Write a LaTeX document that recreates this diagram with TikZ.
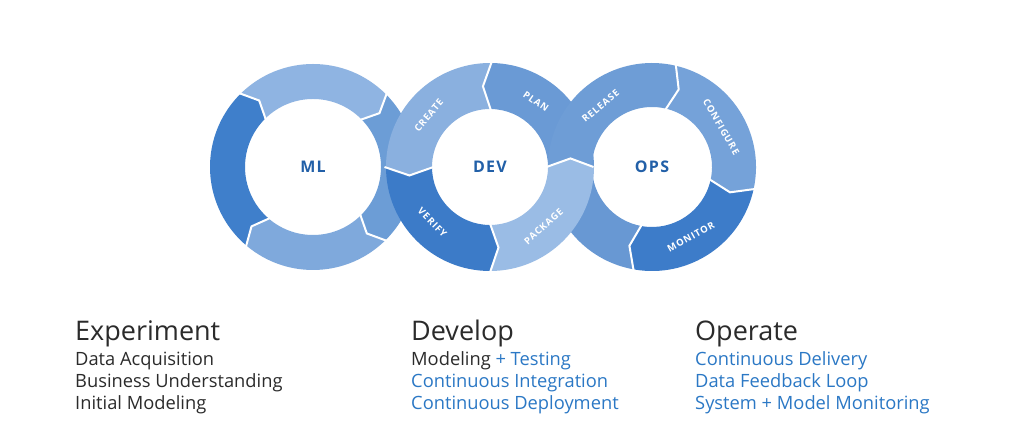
\documentclass[tikz,border=0pt]{standalone}
\usepackage{fontspec}
\setmainfont{Open Sans}
\newfontfamily\segfont[LetterSpace=10]{Open Sans}
\newfontfamily\ctrfont[LetterSpace=8]{Open Sans}
\definecolor{mlL}{HTML}{3F7FCB}
\definecolor{mlT}{HTML}{8FB4E2}
\definecolor{mlR}{HTML}{6C9DD6}
\definecolor{mlB}{HTML}{7FA9DC}
\definecolor{dvC}{HTML}{8AB0DF}
\definecolor{dvP}{HTML}{6A9AD5}
\definecolor{dvK}{HTML}{9ABCE5}
\definecolor{dvV}{HTML}{3C7BC8}
\definecolor{opR}{HTML}{6E9DD6}
\definecolor{opC}{HTML}{75A2D9}
\definecolor{opM}{HTML}{3D7CC9}
\definecolor{opL}{HTML}{6898D3}
\definecolor{ctrblue}{HTML}{2260A8}
\definecolor{txtdark}{HTML}{2B2B2B}
\definecolor{txtblue}{HTML}{2B78C5}
\newcommand{\ringseg}[7]{%
  \pgfmathsetmacro\segm{(#1+#2)/2}%
  \fill[#7] ({#3}:{#1}) arc[start angle=#3,end angle=#4,radius=#1]
    -- ({#4+#6}:{\segm}) -- ({#4}:{#2})
    arc[start angle=#4,end angle=#3,radius=#2]
    -- ({#3+#5}:{\segm}) -- cycle;}
\newcommand{\segsep}[4]{%
  \pgfmathsetmacro\segm{(#1+#2)/2}%
  \draw[sepline] ({#3}:{#1+1.5}) -- ({#3+#4}:{\segm}) -- ({#3}:{#2-1.5});}
\begin{document}
\begin{tikzpicture}[x=1pt,y=1pt,
  sepline/.style={white,line width=2pt,line join=miter},
  seglab/.style={text=white,font=\segfont\bfseries\fontsize{9.5}{10}\selectfont,inner sep=0pt},
  ctr/.style={text=ctrblue,font=\ctrfont\bfseries\fontsize{16}{18}\selectfont,inner sep=0pt},
  head/.style={anchor=base west,text=txtdark,font=\fontsize{27}{30}\selectfont,inner sep=0pt},
  subk/.style={anchor=base west,text=txtdark,font=\fontsize{18.3}{20}\selectfont,inner sep=0pt},
  subb/.style={anchor=base west,text=txtblue,font=\fontsize{18.3}{20}\selectfont,inner sep=0pt}]
\useasboundingbox (0,0) rectangle (1024,435);
\fill[white] (0,0) rectangle (1024,435);
% ML ring (clockwise)
\begin{scope}[shift={(313,268)}]
  \ringseg{103}{68}{230}{135}{-6}{-6}{mlL}
  \ringseg{103}{68}{135}{45}{-6}{-6}{mlT}
  \ringseg{103}{68}{45}{-45}{-6}{-6}{mlR}
  \ringseg{103}{68}{-45}{-130}{-6}{-6}{mlB}
  \segsep{103}{68}{135}{-6}
  \segsep{103}{68}{45}{-6}
  \segsep{103}{68}{-45}{-6}
  \segsep{103}{68}{-130}{-6}
  \node[ctr] (ml) at (0,0) {ML};
\end{scope}
% DEV ring, first part (counter-clockwise)
\begin{scope}[shift={(490,268)}]
  \ringseg{104}{58}{89}{180}{6}{6}{dvC}
  \ringseg{104}{58}{180}{270}{6}{6}{dvV}
  \ringseg{104}{58}{0}{89}{0}{6}{dvP}
\end{scope}
% OPS ring, first part (clockwise)
\begin{scope}[shift={(652,268)}]
  \ringseg{104}{60}{-100}{-180}{-6}{0}{opL}
  \ringseg{104}{60}{77}{-12}{-6}{-6}{opC}
  \ringseg{104}{60}{-12}{-100}{-6}{-6}{opM}
\end{scope}
% crossing strands
\begin{scope}[shift={(490,268)}]
  \ringseg{104}{58}{270}{360}{6}{6}{dvK}
\end{scope}
\begin{scope}[shift={(652,268)}]
  \ringseg{104}{60}{180}{77}{-6}{-6}{opR}
\end{scope}
% separators and labels
\begin{scope}[shift={(490,268)}]
  \segsep{104}{58}{89}{6}
  \segsep{104}{58}{180}{6}
  \segsep{104}{58}{270}{6}
  \node[ctr] (dev) at (0,0) {DEV};
  \node[seglab,rotate=50] (create) at (140:80) {CREATE};
  \node[seglab,rotate=-35] (plan) at (55:80) {PLAN};
  \node[seglab,rotate=-46] (verify) at (-136:80) {VERIFY};
  \node[seglab,rotate=42] (package) at (-48:80) {PACKAGE};
\end{scope}
\begin{scope}[shift={(652,268)}]
  \segsep{104}{60}{77}{-6}
  \segsep{104}{60}{-12}{-6}
  \segsep{104}{60}{-100}{-6}
  \segsep{104}{60}{180}{-6}
  \node[ctr] (ops) at (0,0) {OPS};
  \node[seglab,rotate=40] (release) at (130:80) {RELEASE};
  \node[seglab,rotate=-60] (configure) at (30:80) {CONFIGURE};
  \node[seglab,rotate=29] (monitor) at (-61:80) {MONITOR};
\end{scope}
% text blocks
\node[head] (exp) at (75,94) {Experiment};
\node[subk] (exp1) at (75,69) {Data Acquisition};
\node[subk] (exp2) at (75,47) {Business Understanding};
\node[subk] (exp3) at (75,25) {Initial Modeling};
\node[head] (dvl) at (411,94) {Develop};
\node[subk] (dvl1) at (411,69) {Modeling \textcolor{txtblue}{+ Testing}};
\node[subb] (dvl2) at (411,47) {Continuous Integration};
\node[subb] (dvl3) at (411,25) {Continuous Deployment};
\node[head] (opr) at (695,94) {Operate};
\node[subb] (opr1) at (695,69) {Continuous Delivery};
\node[subb] (opr2) at (695,47) {Data Feedback Loop};
\node[subb] (opr3) at (695,25) {System + Model Monitoring};
\end{tikzpicture}
\end{document}
